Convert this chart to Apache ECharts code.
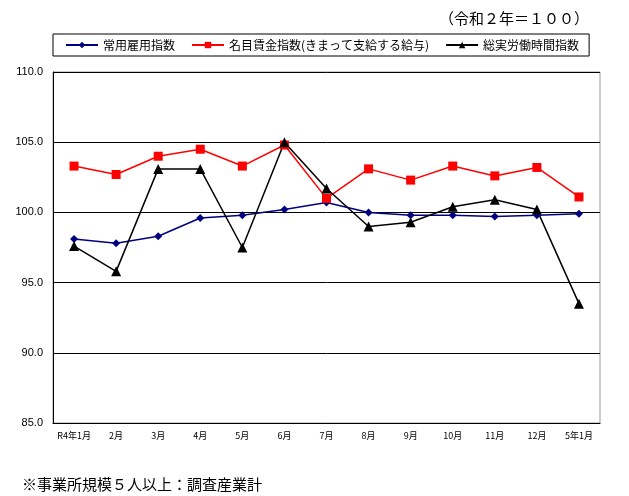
<!DOCTYPE html>
<html><head><meta charset="utf-8">
<script src="https://cdn.jsdelivr.net/npm/echarts@6/dist/echarts.min.js"></script>
<style>html,body{margin:0;padding:0;background:#fff}#c{width:629px;height:496px}</style>
</head><body><div id="c"></div>
<script>
var categories = ['R4年1月','2月','3月','4月','5月','6月','7月','8月','9月','10月','11月','12月','5年1月'];
var employment = [98.1, 97.8, 98.3, 99.6, 99.8, 100.2, 100.7, 100.0, 99.8, 99.8, 99.7, 99.8, 99.9];
var wages = [103.3, 102.7, 104.0, 104.5, 103.3, 104.8, 101.0, 103.1, 102.3, 103.3, 102.6, 103.2, 101.1];
var hours = [97.6, 95.8, 103.1, 103.1, 97.5, 105.0, 101.7, 99.0, 99.3, 100.4, 100.9, 100.2, 93.5];
var yTicks = [85, 110, 5];
var seriesNames = ['常用雇用指数','名目賃金指数(きまって支給する給与)','総実労働時間指数'];

var jp = '"Noto Sans CJK JP", sans-serif';
var chart = echarts.init(document.getElementById('c'), null, {renderer:'canvas'});
chart.setOption({
  animation:false,
  backgroundColor:'#fff',
  graphic:[
    {type:'text', right:40, top:11, style:{text:'（令和２年＝１００）', font:'15px '+jp, fill:'#000'}},
    {type:'text', left:22, top:477, style:{text:'※事業所規模５人以上：調査産業計', font:'15px '+jp, fill:'#000'}}
  ],
  legend:{
    left:53, top:34,
    padding:[5,10,5,12],
    borderColor:'#000', borderWidth:1,
    itemWidth:32, itemHeight:8, itemGap:16,
    textStyle:{fontFamily:jp, fontSize:12, color:'#000'},
    data:seriesNames
  },
  grid:{left:53, right:29, top:72, bottom:73, show:true, borderColor:'#999', borderWidth:1},
  xAxis:{
    type:'category', data:categories, boundaryGap:true,
    axisLine:{lineStyle:{color:'#000', width:1}},
    axisTick:{inside:true, length:3, lineStyle:{color:'#000'}},
    axisLabel:{fontFamily:jp, fontSize:9, color:'#000', margin:8, interval:0}
  },
  yAxis:{
    type:'value', min:yTicks[0], max:yTicks[1], interval:yTicks[2],
    axisLine:{show:true, lineStyle:{color:'#000', width:1}},
    axisTick:{show:false},
    splitLine:{lineStyle:{color:'#000', width:1}},
    axisLabel:{fontFamily:'"Liberation Sans", sans-serif', fontSize:11, color:'#000', margin:10,
      formatter:function(v){return v.toFixed(1);}}
  },
  series:[
    {name:seriesNames[0], type:'line', data:employment, symbol:'diamond', symbolSize:8,
     lineStyle:{color:'#000080', width:1.5}, itemStyle:{color:'#000080'}},
    {name:seriesNames[1], type:'line', data:wages, symbol:'rect', symbolSize:9,
     lineStyle:{color:'#ff0000', width:1.5}, itemStyle:{color:'#ff0000'}},
    {name:seriesNames[2], type:'line', data:hours, symbol:'triangle', symbolSize:10,
     lineStyle:{color:'#000', width:1.5}, itemStyle:{color:'#000'}}
  ]
});
</script></body></html>
